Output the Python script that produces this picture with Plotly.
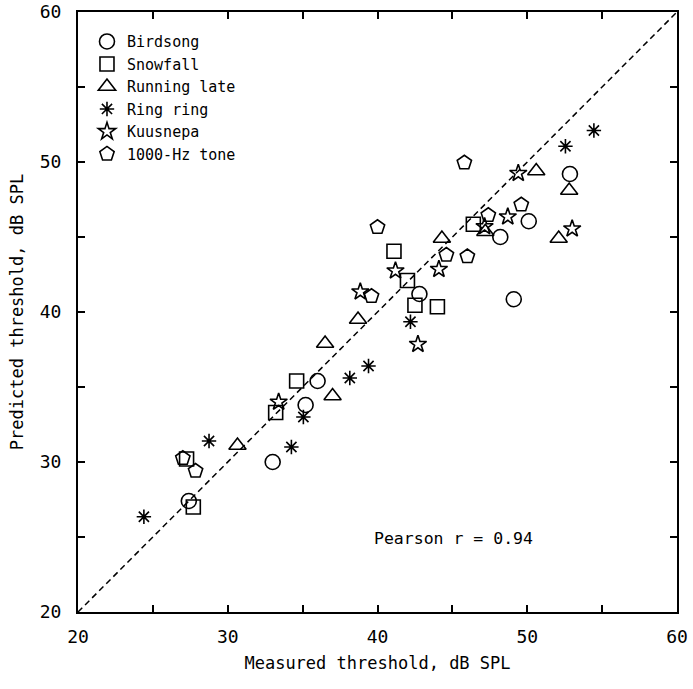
import plotly.graph_objects as go

# Measured (x) and predicted (y) thresholds, dB SPL
birdsong_x = [27.4, 33.0, 35.2, 36.0, 42.8, 48.2, 50.1, 52.85, 49.1]
birdsong_y = [27.4, 30.0, 33.8, 35.4, 41.2, 45.0, 46.05, 49.2, 40.85]

snowfall_x = [27.7, 27.25, 33.2, 34.6, 42.5, 44.0, 42.0, 41.1, 46.4]
snowfall_y = [27.0, 30.2, 33.3, 35.4, 40.45, 40.35, 42.1, 44.05, 45.85]

running_x = [30.65, 37.0, 36.5, 38.7, 44.3, 47.2, 52.1, 52.8, 50.6]
running_y = [31.1, 34.4, 37.9, 39.5, 44.9, 45.35, 44.9, 48.1, 49.4]

ringring_x = [24.4, 28.75, 34.25, 35.05, 38.15, 39.4, 42.2, 52.55, 54.45]
ringring_y = [26.35, 31.4, 31.0, 33.0, 35.6, 36.4, 39.35, 51.05, 52.1]

kuusnepa_x = [33.4, 38.85, 41.2, 42.7, 44.1, 47.15, 48.7, 49.4, 53.0]
kuusnepa_y = [34.0, 41.35, 42.75, 37.85, 42.85, 45.7, 46.35, 49.25, 45.55]

tone_x = [27.0, 27.85, 39.6, 40.0, 44.6, 46.0, 47.4, 49.6, 45.8]
tone_y = [30.25, 29.4, 41.05, 45.65, 43.8, 43.7, 46.45, 47.15, 49.95]

diag = [20, 60]
tick_vals = [20, 25, 30, 35, 40, 45, 50, 55, 60]
tick_text = ["20", "", "30", "", "40", "", "50", "", "60"]

FONT = "DejaVu Sans Mono"

series = [
    ("Birdsong", birdsong_x, birdsong_y, "circle-open", 15),
    ("Snowfall", snowfall_x, snowfall_y, "square-open", 14),
    ("Running late", running_x, running_y, "triangle-up-open", 15),
    ("Ring ring", ringring_x, ringring_y, "asterisk-open", 12),
    ("Kuusnepa", kuusnepa_x, kuusnepa_y, "star-open", 13),
    ("1000-Hz tone", tone_x, tone_y, "pentagon-open", 15),
]

fig = go.Figure()

fig.add_trace(go.Scatter(
    x=diag, y=diag, mode="lines", showlegend=False, hoverinfo="skip",
    line=dict(color="black", width=1.5, dash="6px,4px"),
))

for name, xs, ys, sym, sz in series:
    fig.add_trace(go.Scatter(
        x=xs, y=ys, mode="markers", name=name,
        marker=dict(symbol=sym, size=sz, color="black",
                    line=dict(color="black", width=1.6)),
    ))

fig.add_annotation(
    x=45.1, y=24.9, xref="x", yref="y", text="Pearson r = 0.94",
    showarrow=False, font=dict(family=FONT, size=16.5, color="black"),
)

axis_common = dict(
    range=[20, 60], tickmode="array", tickvals=tick_vals, ticktext=tick_text,
    ticks="inside", ticklen=7, tickwidth=1.5, tickcolor="black",
    showline=True, linecolor="black", linewidth=2, mirror="ticks",
    showgrid=False, zeroline=False, automargin=False,
    ticklabeloverflow="allow",
    tickfont=dict(family=FONT, size=18, color="black"),
    title_font=dict(family=FONT, size=17, color="black"),
)

fig.update_xaxes(**axis_common, title_text="Measured threshold, dB SPL",
                 title_standoff=12, ticklabelstandoff=7)
fig.update_yaxes(**axis_common, title_text="Predicted threshold, dB SPL",
                 title_standoff=12, ticklabelstandoff=11)

fig.update_layout(
    width=693, height=689,
    margin=dict(l=78, r=16, t=12, b=77),
    plot_bgcolor="white", paper_bgcolor="white",
    legend=dict(x=0.015, y=0.978, xanchor="left", yanchor="top",
                font=dict(family=FONT, size=15, color="black"),
                bgcolor="rgba(0,0,0,0)", itemwidth=30, tracegroupgap=0),
)

fig.write_html(
    "out.html",
    config={"displayModeBar": False},
    post_script="document.body.style.margin='0';"
                "document.body.style.overflow='hidden';",
)
